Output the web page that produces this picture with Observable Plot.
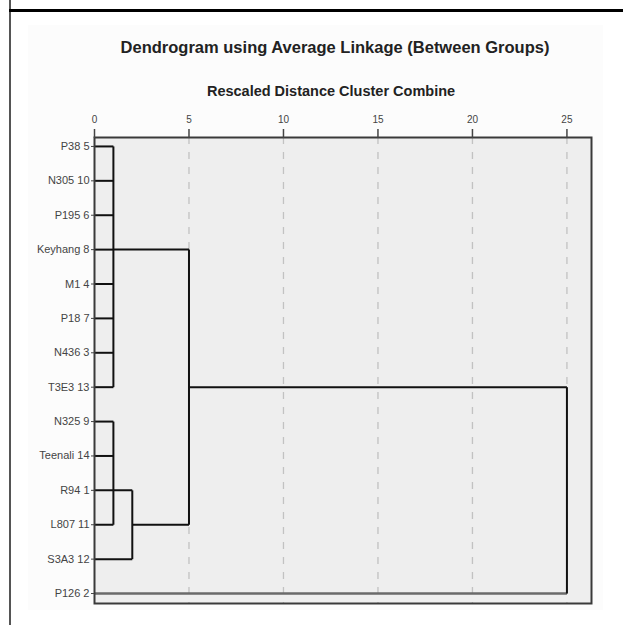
<!DOCTYPE html>
<html><head><meta charset="utf-8">
<script src="https://cdn.jsdelivr.net/npm/d3@7"></script>
<script src="https://cdn.jsdelivr.net/npm/@observablehq/plot@0.6"></script>
<style>
html,body{margin:0;padding:0;background:#fff;}
#wrap{position:relative;width:623px;height:625px;overflow:hidden;}
#panel{position:absolute;left:28px;top:25px;width:575px;height:585px;background:#fcfcfc;}
#topline{position:absolute;left:9px;top:9px;width:614px;height:3px;background:#000;}
#leftline{position:absolute;left:9px;top:0;width:2px;height:625px;background:#555;}
#chart{position:absolute;left:0;top:0;}
</style></head><body>
<div id="wrap"><div id="panel"></div><div id="leftline"></div><div id="topline"></div><div id="chart"></div></div>
<script>
const title = "Dendrogram using Average Linkage (Between Groups)";
const subtitle = "Rescaled Distance Cluster Combine";
const leafLabels = ["P38 5","N305 10","P195 6","Keyhang 8","M1 4","P18 7","N436 3","T3E3 13","N325 9","Teenali 14","R94 1","L807 11","S3A3 12","P126 2"];
// distance at which each leaf's horizontal line ends
const leafJoin = [1,1,1,1,1,1,1,1,1,1,2,1,2,25];
// vertical merge lines: distance, first row, last row
const vDist = [1,1,2,5,25];
const vFrom = [0,8,10,3,7];
const vTo   = [7,11,12,11,13];
// horizontal connectors between merges: row, start distance, end distance
const hRow  = [3,11,7];
const hFrom = [1,2,5];
const hTo   = [5,5,25];
const xTicks = [0,5,10,15,20,25];
const gridTicks = [5,10,15,20,25];

const leaves = leafLabels.map((name,i)=>({name,i,join:leafJoin[i]}));
const verts = vDist.map((d,k)=>({d,from:vFrom[k],to:vTo[k]}));
const hors = hRow.map((r,k)=>({r,from:hFrom[k],to:hTo[k]}));

const chart = Plot.plot({
  width: 623, height: 625,
  marginLeft: 94, marginRight: 32, marginTop: 137, marginBottom: 22,
  style: {fontFamily: "'Liberation Sans', Arial, sans-serif", background: "transparent", color: "#333"},
  x: {domain: [0, 26.3], label: null},
  y: {domain: [-0.26, 13.29], reverse: true, label: null},
  marks: [
    Plot.frame({fill: "#eeeeee"}),
    Plot.ruleX(gridTicks, {stroke: "#c2c2c2", strokeWidth: 1.3, strokeDasharray: "7,8"}),
    Plot.link(leaves.filter(d=>d.i<13), {x1: 0, y1: "i", x2: "join", y2: "i", stroke: "#111", strokeWidth: 2}),
    Plot.link(leaves.filter(d=>d.i===13), {x1: 0, y1: "i", x2: "join", y2: "i", stroke: "#6a6a6a", strokeWidth: 2.5}),
    Plot.link(verts, {x1: "d", x2: "d", y1: "from", y2: "to", stroke: "#111", strokeWidth: 2}),
    Plot.link(hors, {x1: "from", x2: "to", y1: "r", y2: "r", stroke: "#111", strokeWidth: 2}),
    Plot.frame({stroke: "#3a3a3a", strokeWidth: 2}),
    Plot.axisX({anchor: "top", ticks: xTicks, tickSize: 9, tickPadding: 6, fontSize: 10, color: "#444", strokeWidth: 1.5, label: null}),
    Plot.axisY({anchor: "left", ticks: d3.range(leafLabels.length), tickFormat: i => leafLabels[i], tickSize: 3, tickPadding: 2, fontSize: 11, color: "#444", label: null}),
    Plot.text([title], {text: d=>d, frameAnchor: "top", lineAnchor: "middle", dx: -8, dy: -90, fontSize: 16.5, fontWeight: "bold", fill: "#222"}),
    Plot.text([subtitle], {text: d=>d, frameAnchor: "top", lineAnchor: "middle", dx: -12, dy: -46, fontSize: 14.5, fontWeight: "bold", fill: "#222"})
  ]
});
document.getElementById("chart").appendChild(chart);
</script>
</body></html>
